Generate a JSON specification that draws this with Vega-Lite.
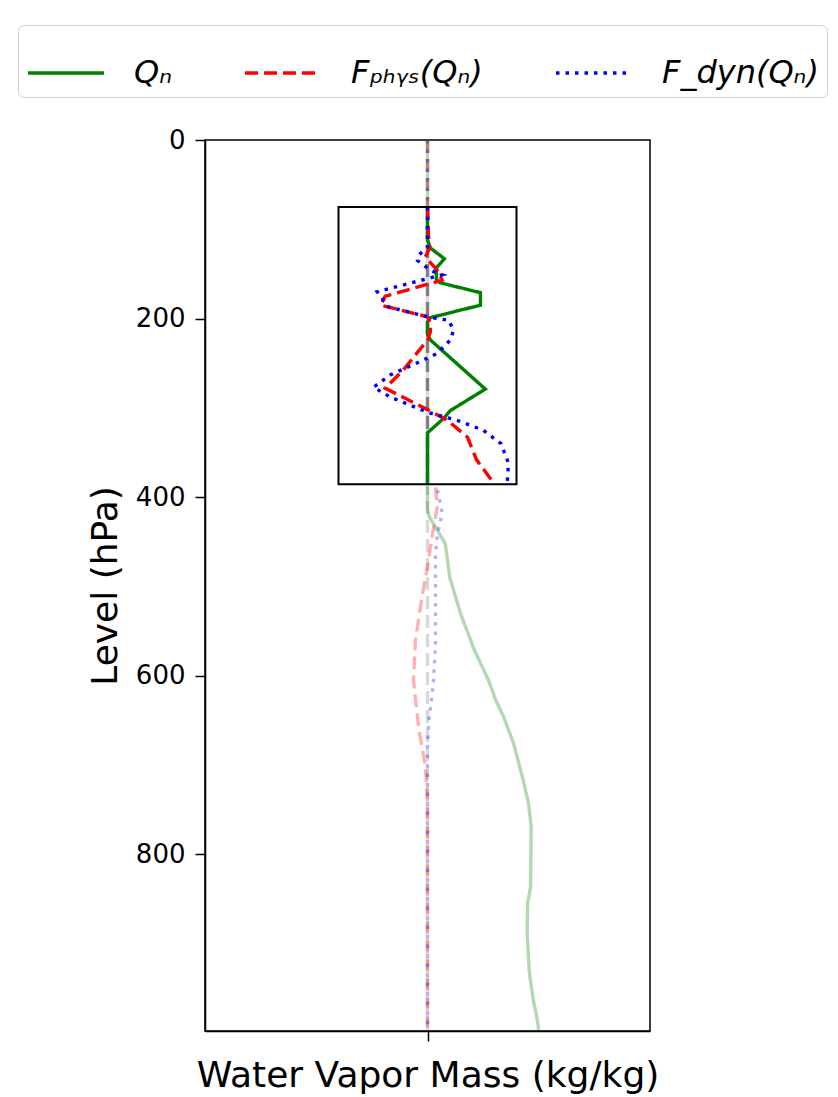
{
  "$schema": "https://vega.github.io/schema/vega-lite/v6.json",
  "width": 445,
  "height": 891,
  "autosize": {"type": "none"},
  "padding": {"left": 205, "top": 140, "right": 188, "bottom": 66},
  "background": "white",
  "datasets": {
    "profiles": [
      {"series": "Qₙ", "level": 0, "value": 0},
      {"series": "Qₙ", "level": 75, "value": 0},
      {"series": "Qₙ", "level": 112, "value": 0},
      {"series": "Qₙ", "level": 121, "value": 0.013},
      {"series": "Qₙ", "level": 133, "value": 0.076},
      {"series": "Qₙ", "level": 143, "value": 0.04},
      {"series": "Qₙ", "level": 157, "value": 0.04},
      {"series": "Qₙ", "level": 160, "value": 0.058},
      {"series": "Qₙ", "level": 171, "value": 0.238},
      {"series": "Qₙ", "level": 185, "value": 0.238},
      {"series": "Qₙ", "level": 199, "value": 0.013},
      {"series": "Qₙ", "level": 204, "value": 0},
      {"series": "Qₙ", "level": 218, "value": 0},
      {"series": "Qₙ", "level": 224, "value": 0.013},
      {"series": "Qₙ", "level": 279, "value": 0.26},
      {"series": "Qₙ", "level": 303, "value": 0.103},
      {"series": "Qₙ", "level": 312, "value": 0.072},
      {"series": "Qₙ", "level": 328, "value": 0},
      {"series": "Qₙ", "level": 385, "value": 0},
      {"series": "Qₙ", "level": 388, "value": 0},
      {"series": "Qₙ", "level": 414, "value": 0},
      {"series": "Qₙ", "level": 422, "value": 0.008},
      {"series": "Qₙ", "level": 452, "value": 0.08},
      {"series": "Qₙ", "level": 490, "value": 0.1},
      {"series": "Qₙ", "level": 530, "value": 0.148},
      {"series": "Qₙ", "level": 571, "value": 0.21},
      {"series": "Qₙ", "level": 605, "value": 0.274},
      {"series": "Qₙ", "level": 627, "value": 0.306},
      {"series": "Qₙ", "level": 646, "value": 0.342},
      {"series": "Qₙ", "level": 676, "value": 0.387},
      {"series": "Qₙ", "level": 717, "value": 0.43},
      {"series": "Qₙ", "level": 743, "value": 0.454},
      {"series": "Qₙ", "level": 769, "value": 0.466},
      {"series": "Qₙ", "level": 837, "value": 0.463},
      {"series": "Qₙ", "level": 855, "value": 0.45},
      {"series": "Qₙ", "level": 889, "value": 0.448},
      {"series": "Qₙ", "level": 933, "value": 0.458},
      {"series": "Qₙ", "level": 964, "value": 0.476},
      {"series": "Qₙ", "level": 986, "value": 0.494},
      {"series": "Qₙ", "level": 998, "value": 0.5},
      {"series": "Fₚₕᵧₛ(Qₙ)", "level": 0, "value": 0},
      {"series": "Fₚₕᵧₛ(Qₙ)", "level": 75, "value": 0},
      {"series": "Fₚₕᵧₛ(Qₙ)", "level": 110, "value": 0.005},
      {"series": "Fₚₕᵧₛ(Qₙ)", "level": 121, "value": 0.01},
      {"series": "Fₚₕᵧₛ(Qₙ)", "level": 131, "value": -0.01},
      {"series": "Fₚₕᵧₛ(Qₙ)", "level": 146, "value": 0.045},
      {"series": "Fₚₕᵧₛ(Qₙ)", "level": 157, "value": 0.066},
      {"series": "Fₚₕᵧₛ(Qₙ)", "level": 175, "value": -0.19},
      {"series": "Fₚₕᵧₛ(Qₙ)", "level": 185, "value": -0.21},
      {"series": "Fₚₕᵧₛ(Qₙ)", "level": 198, "value": 0},
      {"series": "Fₚₕᵧₛ(Qₙ)", "level": 205, "value": 0.013},
      {"series": "Fₚₕᵧₛ(Qₙ)", "level": 215, "value": 0.013},
      {"series": "Fₚₕᵧₛ(Qₙ)", "level": 224, "value": 0},
      {"series": "Fₚₕᵧₛ(Qₙ)", "level": 258, "value": -0.11},
      {"series": "Fₚₕᵧₛ(Qₙ)", "level": 278, "value": -0.19},
      {"series": "Fₚₕᵧₛ(Qₙ)", "level": 302, "value": 0},
      {"series": "Fₚₕᵧₛ(Qₙ)", "level": 314, "value": 0.09},
      {"series": "Fₚₕᵧₛ(Qₙ)", "level": 333, "value": 0.18},
      {"series": "Fₚₕᵧₛ(Qₙ)", "level": 358, "value": 0.22},
      {"series": "Fₚₕᵧₛ(Qₙ)", "level": 385, "value": 0.3},
      {"series": "Fₚₕᵧₛ(Qₙ)", "level": 389, "value": 0.036},
      {"series": "Fₚₕᵧₛ(Qₙ)", "level": 411, "value": 0.044},
      {"series": "Fₚₕᵧₛ(Qₙ)", "level": 445, "value": 0.02},
      {"series": "Fₚₕᵧₛ(Qₙ)", "level": 478, "value": 0},
      {"series": "Fₚₕᵧₛ(Qₙ)", "level": 512, "value": -0.025},
      {"series": "Fₚₕᵧₛ(Qₙ)", "level": 560, "value": -0.054},
      {"series": "Fₚₕᵧₛ(Qₙ)", "level": 605, "value": -0.063},
      {"series": "Fₚₕᵧₛ(Qₙ)", "level": 658, "value": -0.04},
      {"series": "Fₚₕᵧₛ(Qₙ)", "level": 703, "value": -0.009},
      {"series": "Fₚₕᵧₛ(Qₙ)", "level": 740, "value": 0},
      {"series": "Fₚₕᵧₛ(Qₙ)", "level": 998, "value": 0},
      {"series": "F_dyn(Qₙ)", "level": 0, "value": 0},
      {"series": "F_dyn(Qₙ)", "level": 75, "value": 0},
      {"series": "F_dyn(Qₙ)", "level": 120, "value": 0},
      {"series": "F_dyn(Qₙ)", "level": 129, "value": -0.04},
      {"series": "F_dyn(Qₙ)", "level": 135, "value": -0.045},
      {"series": "F_dyn(Qₙ)", "level": 146, "value": 0.013},
      {"series": "F_dyn(Qₙ)", "level": 151, "value": 0.066},
      {"series": "F_dyn(Qₙ)", "level": 170, "value": -0.226},
      {"series": "F_dyn(Qₙ)", "level": 187, "value": -0.175},
      {"series": "F_dyn(Qₙ)", "level": 198, "value": 0},
      {"series": "F_dyn(Qₙ)", "level": 202, "value": 0.095},
      {"series": "F_dyn(Qₙ)", "level": 213, "value": 0.117},
      {"series": "F_dyn(Qₙ)", "level": 224, "value": 0.103},
      {"series": "F_dyn(Qₙ)", "level": 239, "value": 0.044},
      {"series": "F_dyn(Qₙ)", "level": 249, "value": -0.04},
      {"series": "F_dyn(Qₙ)", "level": 263, "value": -0.166},
      {"series": "F_dyn(Qₙ)", "level": 277, "value": -0.243},
      {"series": "F_dyn(Qₙ)", "level": 288, "value": -0.166},
      {"series": "F_dyn(Qₙ)", "level": 305, "value": 0},
      {"series": "F_dyn(Qₙ)", "level": 314, "value": 0.133},
      {"series": "F_dyn(Qₙ)", "level": 325, "value": 0.25},
      {"series": "F_dyn(Qₙ)", "level": 340, "value": 0.33},
      {"series": "F_dyn(Qₙ)", "level": 362, "value": 0.364},
      {"series": "F_dyn(Qₙ)", "level": 385, "value": 0.358},
      {"series": "F_dyn(Qₙ)", "level": 392, "value": 0.045},
      {"series": "F_dyn(Qₙ)", "level": 418, "value": 0.066},
      {"series": "F_dyn(Qₙ)", "level": 441, "value": 0.045},
      {"series": "F_dyn(Qₙ)", "level": 463, "value": 0.036},
      {"series": "F_dyn(Qₙ)", "level": 568, "value": 0.036},
      {"series": "F_dyn(Qₙ)", "level": 613, "value": 0.025},
      {"series": "F_dyn(Qₙ)", "level": 650, "value": 0.006},
      {"series": "F_dyn(Qₙ)", "level": 680, "value": 0},
      {"series": "F_dyn(Qₙ)", "level": 998, "value": 0}
    ],
    "zoombox": [
      {"left": -0.4, "right": 0.4, "top": 75, "bottom": 385.5}
    ]
  },
  "encoding": {
    "y": {
      "field": "level",
      "type": "quantitative",
      "scale": {"domain": [0, 998], "reverse": true, "nice": false, "zero": false},
      "axis": {
        "values": [0, 200, 400, 600, 800],
        "title": "Level (hPa)",
        "titlePadding": 11
      }
    },
    "x": {
      "field": "value",
      "type": "quantitative",
      "scale": {"domain": [-1, 1], "nice": false},
      "axis": {
        "values": [0],
        "labels": false,
        "title": "Water Vapor Mass (kg/kg)",
        "titlePadding": 17
      }
    }
  },
  "layer": [
    {
      "data": {"values": [{"value": 0, "level": 0, "level2": 998}]},
      "mark": {"type": "rule", "color": "gray", "strokeWidth": 3.4, "strokeDash": [13, 6], "strokeOpacity": 0.3},
      "encoding": {"y2": {"field": "level2"}}
    },
    {
      "data": {"values": [{"value": 0, "level": 75, "level2": 385.5}]},
      "mark": {"type": "rule", "color": "gray", "strokeWidth": 3.4, "strokeDash": [13, 6]},
      "encoding": {"y2": {"field": "level2"}}
    },
    {
      "data": {"name": "profiles"},
      "transform": [{"filter": "datum.level >= 75 && datum.level <= 385"}],
      "mark": {"type": "line", "strokeWidth": 3.4},
      "encoding": {
        "color": {
          "field": "series",
          "type": "nominal",
          "scale": {
            "domain": ["Qₙ", "Fₚₕᵧₛ(Qₙ)", "F_dyn(Qₙ)"],
            "range": ["green", "red", "blue"]
          },
          "legend": {
            "title": null,
            "orient": "none",
            "legendX": -187,
            "legendY": -115,
            "direction": "horizontal",
            "fillColor": "white",
            "strokeColor": "#d0d0d0",
            "cornerRadius": 6,
            "padding": 8,
            "symbolType": "stroke",
            "symbolSize": 5776,
            "symbolStrokeWidth": 3.5,
            "symbolOpacity": 1,
            "labelFont": "DejaVu Sans",
            "labelFontSize": 32,
            "labelFontStyle": "italic",
            "labelColor": "black",
            "labelOffset": 28,
            "labelLimit": 400,
            "columnPadding": 66,
            "encode": {
              "symbols": {
                "update": {
                  "opacity": {"value": 1},
                  "strokeOpacity": {"value": 1}
                }
              }
            }
          }
        },
        "strokeDash": {
          "field": "series",
          "type": "nominal",
          "scale": {
            "domain": ["Qₙ", "Fₚₕᵧₛ(Qₙ)", "F_dyn(Qₙ)"],
            "range": [[1, 0], [13, 6], [3.5, 6]]
          }
        },
        "order": {"field": "level", "type": "quantitative"}
      }
    },
    {
      "data": {"name": "profiles"},
      "transform": [{"filter": "datum.level <= 75"}],
      "mark": {"type": "line", "strokeWidth": 3.4, "strokeOpacity": 0.3},
      "encoding": {
        "color": {"field": "series", "type": "nominal"},
        "strokeDash": {"field": "series", "type": "nominal"},
        "order": {"field": "level", "type": "quantitative"}
      }
    },
    {
      "data": {"name": "profiles"},
      "transform": [{"filter": "datum.level >= 388"}],
      "mark": {"type": "line", "strokeWidth": 3.4, "strokeOpacity": 0.3},
      "encoding": {
        "color": {"field": "series", "type": "nominal"},
        "strokeDash": {"field": "series", "type": "nominal"},
        "order": {"field": "level", "type": "quantitative"}
      }
    },
    {
      "data": {"name": "zoombox"},
      "mark": {"type": "rect", "filled": false, "stroke": "black", "strokeWidth": 2},
      "encoding": {
        "x": {"field": "left", "type": "quantitative"},
        "x2": {"field": "right"},
        "y": {"field": "top", "type": "quantitative"},
        "y2": {"field": "bottom"}
      }
    }
  ],
  "config": {
    "font": "DejaVu Sans",
    "view": {"stroke": "black", "strokeWidth": 1.5},
    "axis": {
      "grid": false,
      "domainColor": "black",
      "domainWidth": 1.5,
      "tickColor": "black",
      "tickWidth": 1.5,
      "tickSize": 10,
      "labelColor": "black",
      "labelFont": "DejaVu Sans",
      "labelFontSize": 26,
      "labelPadding": 10,
      "titleColor": "black",
      "titleFont": "DejaVu Sans",
      "titleFontSize": 36,
      "titleFontWeight": "normal"
    }
  }
}
